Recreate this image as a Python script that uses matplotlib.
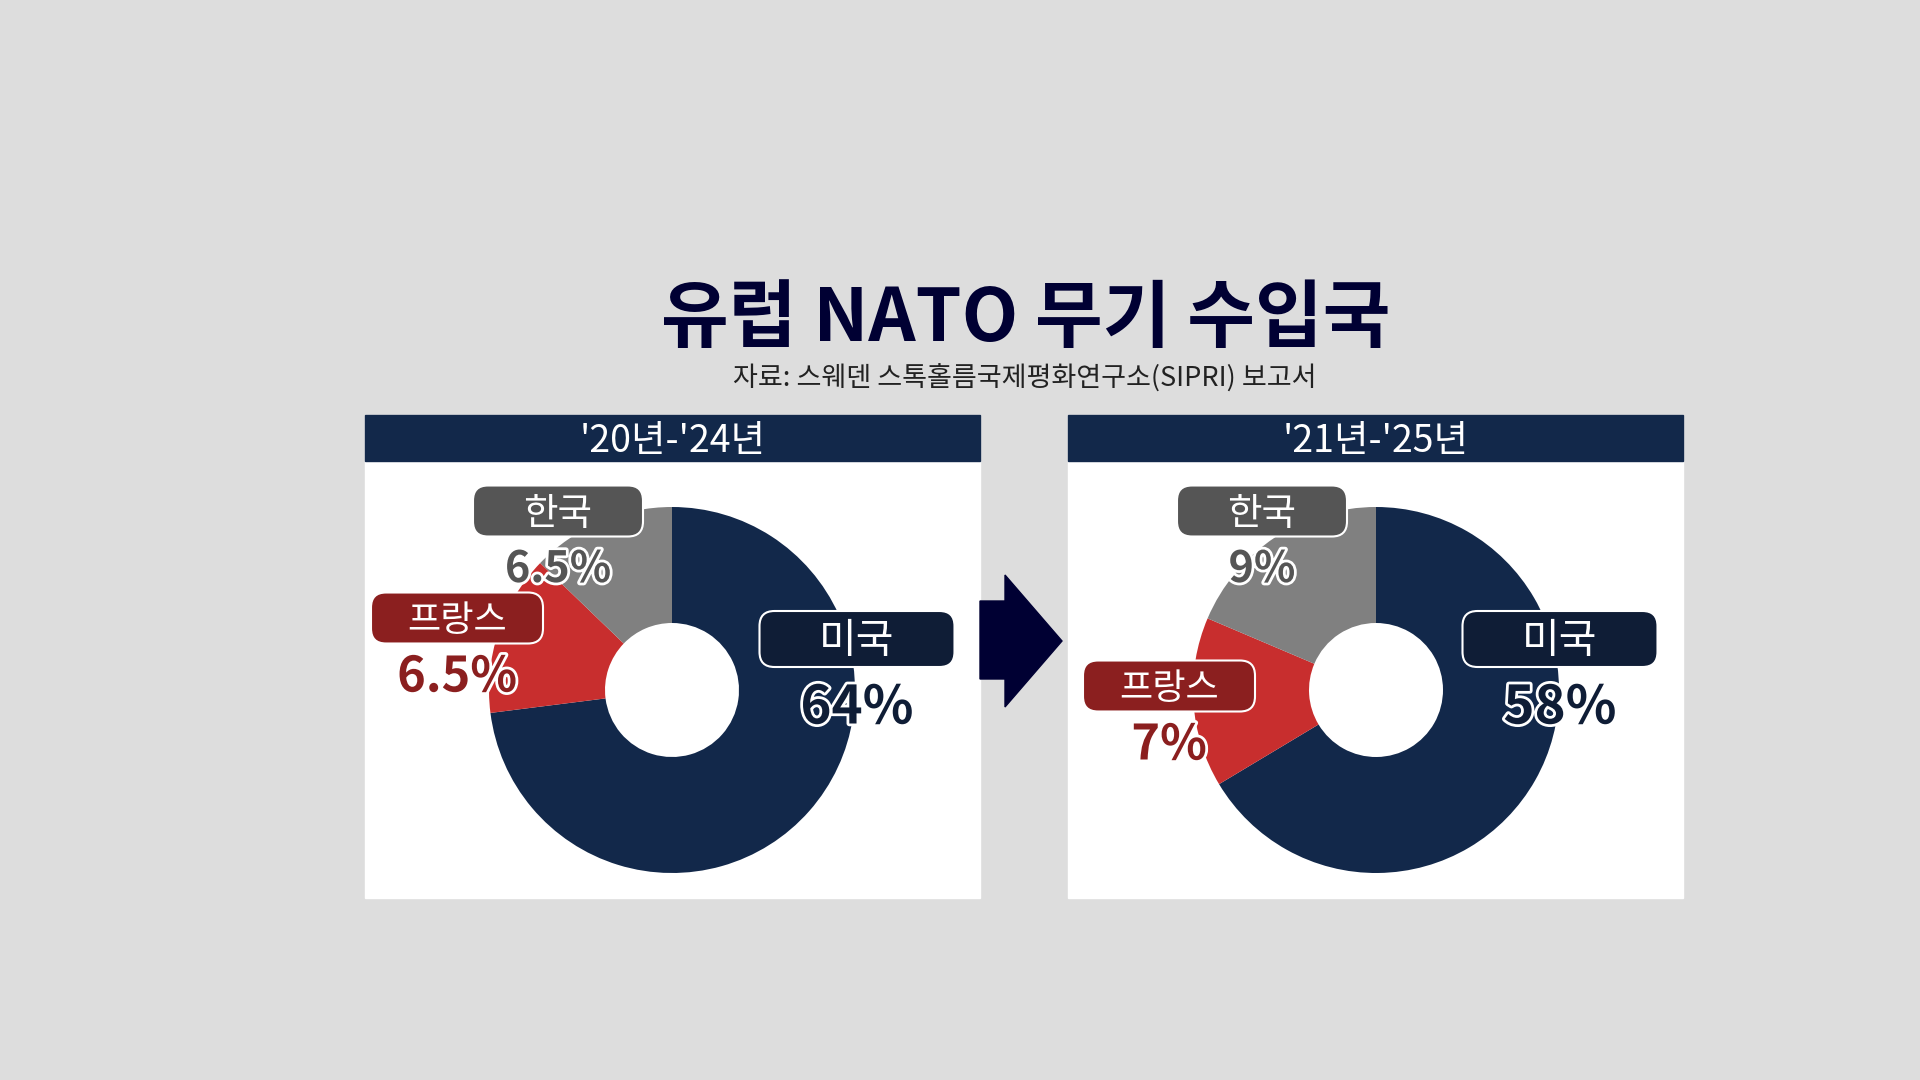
import matplotlib
matplotlib.use("Agg")
import matplotlib.pyplot as plt
from matplotlib.patches import Rectangle, FancyBboxPatch, Polygon
import matplotlib.patheffects as pe

plt.rcParams['font.family'] = ['Noto Sans CJK KR', 'DejaVu Sans']

# data
title = '유럽 NATO 무기 수입국'
source = '자료: 스웨덴 스톡홀름국제평화연구소(SIPRI) 보고서'
periods = ["'20년-'24년", "'21년-'25년"]
countries = ['미국', '프랑스', '한국']
label_pct_20_24 = [64, 6.5, 6.5]
label_pct_21_25 = [58, 7, 9]
# wedge sizes as drawn in the picture (share of the ring, %)
ring_20_24 = [73.0, 14.2, 12.8]
ring_21_25 = [66.4, 15.0, 18.6]

BG = '#dddddd'
NAVY = '#12284a'
wedge_cols = [NAVY, '#c82e2e', '#808080']
box_cols = ['#0f1d36', '#8b1f1f', '#555555']
pct_cols = ['#0f1d36', '#8b1f1f', '#555555']

H = 1080
fig = plt.figure(figsize=(19.2, 10.8), dpi=100, facecolor=BG)
ax = fig.add_axes([0, 0, 1, 1])
ax.set_facecolor(BG)


def Y(y):
    return H - y


ax.text(1026, Y(320), title, ha='center', va='center', fontsize=53,
        fontweight='bold', color='#000033')
ax.text(1025, Y(379), source, ha='center', va='center', fontsize=19.5,
        color='#222222')

panels = [
    dict(x0=365, cx=672, period=periods[0], ring=ring_20_24, pct=label_pct_20_24,
         offs=[(185, -51), (-215, -72), (-114, -179)]),
    dict(x0=1068, cx=1376, period=periods[1], ring=ring_21_25, pct=label_pct_21_25,
         offs=[(184, -51), (-207, -4), (-114, -179)]),
]
pw, top, bot, hdr = 615, 415, 898, 461
cy, R, r = 690, 183, 67
box_sz = [(195, 56, 29.5), (172, 51, 26), (170, 51, 27)]
pct_dy = [69, 59, 58]
pct_fs = [38, 35, 31]

for p in panels:
    ax.add_patch(Rectangle((p['x0'], Y(bot)), pw, bot - top, color='white', zorder=1))
    ax.add_patch(Rectangle((p['x0'], Y(hdr)), pw, hdr - top, color=NAVY, zorder=2))
    ax.text(p['x0'] + pw / 2, Y(442), p['period'], ha='center', va='center',
            fontsize=27, color='white', zorder=3)

    ax.pie(p['ring'], colors=wedge_cols, startangle=90, counterclock=False,
           center=(p['cx'], Y(cy)), radius=R,
           wedgeprops=dict(width=R - r, linewidth=0, zorder=2))

    for i, name in enumerate(countries):
        dx, dy = p['offs'][i]
        bx, by = p['cx'] + dx, cy + dy
        w, h, fs = box_sz[i]
        ax.add_patch(FancyBboxPatch((bx - w / 2, Y(by + h / 2)), w, h,
                                    boxstyle='round,pad=0,rounding_size=15',
                                    facecolor=box_cols[i], edgecolor='white',
                                    linewidth=1.5, zorder=5))
        ax.text(bx, Y(by + 3), name, ha='center', va='center', fontsize=fs,
                color='white', zorder=6)
        ax.text(bx, Y(by + pct_dy[i]), f"{p['pct'][i]:g}%", ha='center',
                va='center', fontsize=pct_fs[i], fontweight='bold',
                color=pct_cols[i], zorder=6,
                path_effects=[pe.withStroke(linewidth=4, foreground='white')])

# arrow between panels
arrow = [(980, 601), (1005, 601), (1005, 575), (1062, 641), (1005, 707),
         (1005, 679), (980, 679)]
ax.add_patch(Polygon([(x, Y(y)) for x, y in arrow], closed=True,
                     color='#000033', zorder=2))

ax.set_xlim(0, 1920)
ax.set_ylim(0, H)
ax.set_aspect('auto')
ax.axis('off')

fig.savefig('out.png', dpi=100, facecolor=BG)
